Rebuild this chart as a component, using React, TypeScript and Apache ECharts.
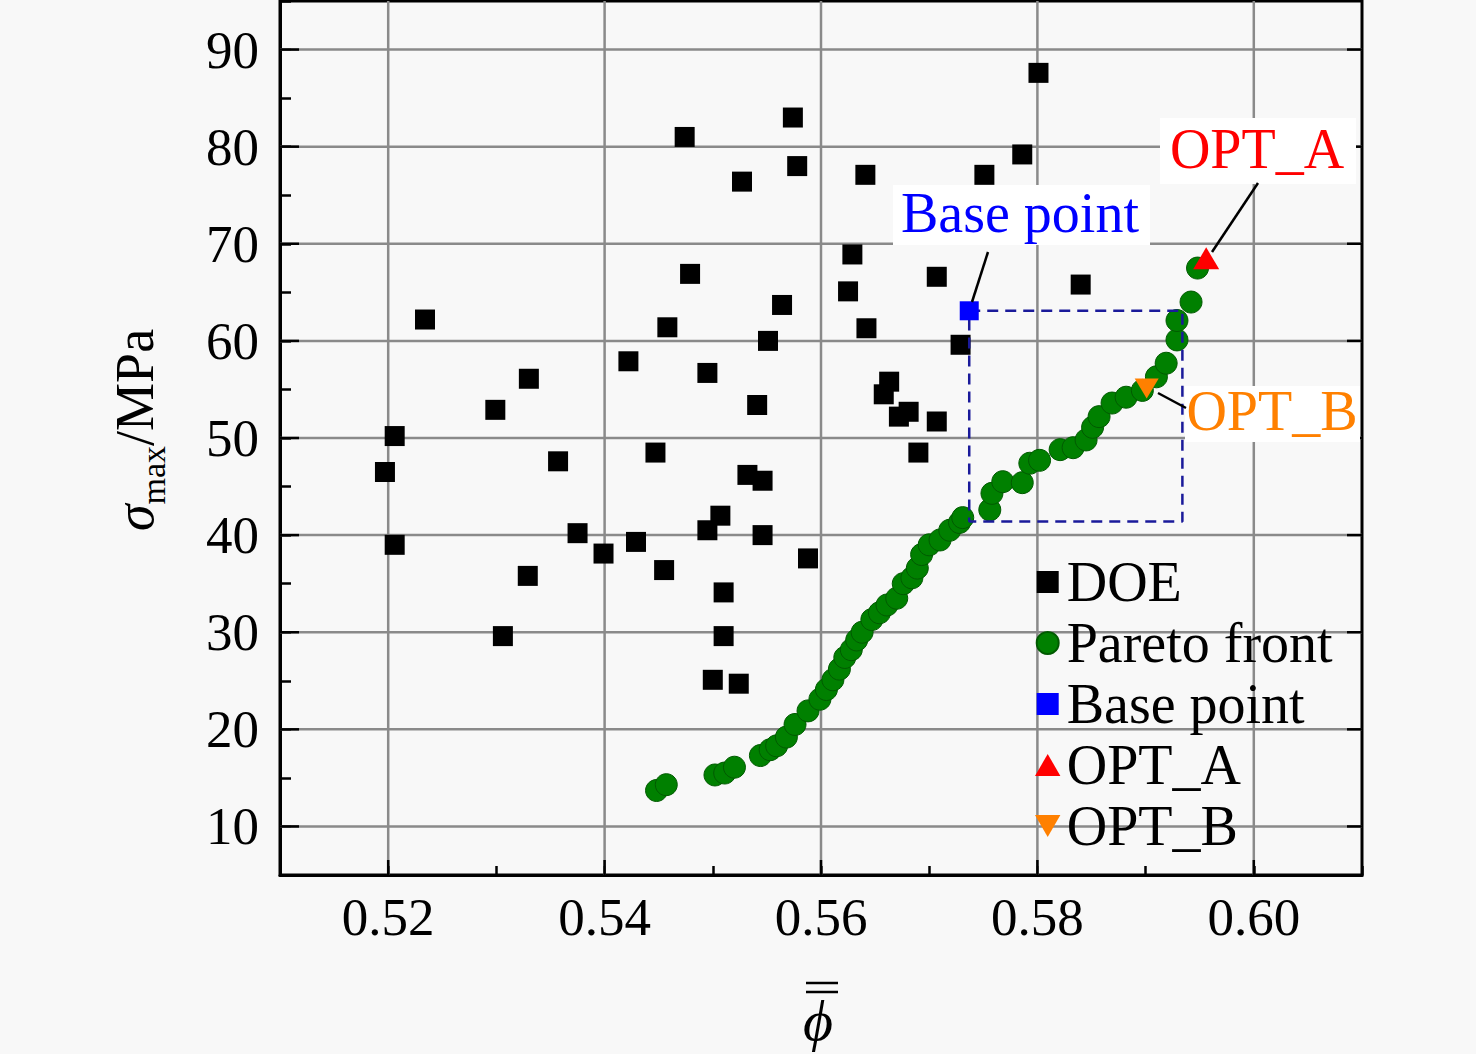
import React, { useEffect, useRef } from "react";
import * as echarts from "echarts";

const FONT = "'Liberation Serif', 'Times New Roman', serif";

const X_MIN = 0.51;
const X_MAX = 0.61;
const Y_MIN = 5;
const Y_MAX = 95;
const xMajorTicks = [0.52, 0.54, 0.56, 0.58, 0.6];
const yMajorTicks = [10, 20, 30, 40, 50, 60, 70, 80, 90];

const doePoints: number[][] = [
  [0.5197, 46.5], [0.5206, 50.2], [0.5206, 39.0], [0.5234, 62.2], [0.5299, 52.9],
  [0.5306, 29.6], [0.533, 56.1], [0.5329, 35.8], [0.5357, 47.6], [0.5375, 40.2],
  [0.5399, 38.1], [0.5422, 57.9], [0.5429, 39.3], [0.5447, 48.5], [0.5455, 36.4],
  [0.5458, 61.4], [0.5474, 81.0], [0.5479, 66.9], [0.5495, 56.7], [0.5495, 40.5],
  [0.55, 25.1], [0.5507, 42.0], [0.551, 34.1], [0.551, 29.6], [0.5524, 24.7],
  [0.5527, 76.4], [0.5532, 46.2], [0.5541, 53.4], [0.5546, 45.6], [0.5546, 40.0],
  [0.5551, 60.0], [0.5564, 63.7], [0.5574, 83.0], [0.5578, 78.0], [0.5588, 37.6],
  [0.5625, 65.1], [0.5629, 68.9], [0.5641, 77.1], [0.5642, 61.3], [0.5658, 54.5],
  [0.5663, 55.8], [0.5672, 52.2], [0.5681, 52.7], [0.569, 48.5], [0.5707, 66.6],
  [0.5707, 51.7], [0.5729, 59.6], [0.5751, 77.1], [0.5786, 79.2], [0.5801, 87.6],
  [0.584, 65.8],
];

const paretoPoints: number[][] = [
  [0.5448, 13.7], [0.5457, 14.3], [0.5502, 15.3], [0.5511, 15.5], [0.552, 16.1],
  [0.5544, 17.3], [0.5553, 17.9], [0.5559, 18.3], [0.5568, 19.2], [0.5576, 20.5],
  [0.5588, 21.9], [0.5599, 23.1], [0.5605, 24.1], [0.5611, 25.1], [0.5617, 26.2],
  [0.5622, 27.4], [0.5628, 28.2], [0.5633, 29.2], [0.5638, 30.0], [0.5647, 31.3],
  [0.5654, 32.0], [0.5661, 32.8], [0.567, 33.5], [0.5676, 35.0], [0.5684, 35.6],
  [0.5689, 36.6], [0.5693, 38.0], [0.57, 39.0], [0.571, 39.5], [0.5719, 40.5],
  [0.5728, 41.3], [0.5731, 41.8], [0.5756, 42.6], [0.5758, 44.3], [0.5768, 45.5],
  [0.5786, 45.4], [0.5793, 47.4], [0.5802, 47.7], [0.5821, 48.8], [0.5833, 49.0],
  [0.5845, 49.8], [0.5851, 51.1], [0.5857, 52.2], [0.5869, 53.6], [0.5882, 54.2],
  [0.5897, 54.9], [0.591, 56.3], [0.5919, 57.7], [0.5929, 60.1], [0.5929, 62.1],
  [0.5942, 64.0], [0.5948, 67.5],
];

const basePoint: number[][] = [[0.5737, 63.1]];
const optAPoint: number[][] = [[0.5956, 68.5]];
const optBPoint: number[][] = [[0.5901, 55.1]];
const baseBox: number[][] = [
  [0.5737, 63.1], [0.5934, 63.1], [0.5934, 41.4], [0.5737, 41.4], [0.5737, 63.1],
];

const legendNames = ["DOE", "Pareto front", "Base point", "OPT_A", "OPT_B"];

const SQUARE_ICON = "path://M0,0L10,0L10,10L0,10Z";
const TRI_UP_ICON = "path://M5,0L10,8.66L0,8.66Z";
const TRI_DOWN_ICON = "path://M0,0L10,0L5,8.66Z";

export default function App() {
  const ref = useRef<HTMLDivElement>(null);

  useEffect(() => {
    if (!ref.current) return;
    const chart = echarts.init(ref.current, undefined, { renderer: "svg" });

    const gridColor = "#8a8a8a";

    const option: any = {
      animation: false,
      backgroundColor: "#f8f8f8",
      textStyle: { fontFamily: FONT },
      grid: {
        left: 280,
        right: 114,
        top: 1,
        bottom: 179,
        show: true,
        borderColor: "#000",
        borderWidth: 3,
        backgroundColor: "transparent",
      },
      xAxis: {
        type: "value",
        min: X_MIN,
        max: X_MAX,
        interval: 0.01,
        axisLine: { show: true, lineStyle: { color: "#000", width: 3 } },
        axisTick: { show: true, inside: true, length: 9, lineStyle: { color: "#000", width: 2.5 } },
        axisLabel: {
          color: "#000",
          fontSize: 53,
          fontFamily: FONT,
          margin: 15,
          formatter: (v: number) => (Math.round(v * 100) % 2 === 0 ? v.toFixed(2) : ""),
        },
        splitLine: { show: false },
      },
      yAxis: {
        type: "value",
        min: Y_MIN,
        max: Y_MAX,
        interval: 5,
        axisLine: { show: true, lineStyle: { color: "#000", width: 3 } },
        axisTick: { show: true, inside: true, length: 11, lineStyle: { color: "#000", width: 2.5 } },
        axisLabel: {
          color: "#000",
          fontSize: 53,
          fontFamily: FONT,
          margin: 21,
          formatter: (v: number) => (Math.round(v) % 10 === 0 ? String(Math.round(v)) : ""),
        },
        splitLine: { show: false },
        name: "{s|σ}{sub|max}{n|/MPa}",
        nameLocation: "middle",
        nameRotate: 90,
        nameGap: 110,
        nameTextStyle: {
          padding: [0, 0, 0, 16],
          rich: {
            s: { fontSize: 54, fontFamily: FONT, fontStyle: "italic", color: "#000", lineHeight: 70, verticalAlign: "middle" },
            sub: { fontSize: 34, fontFamily: FONT, color: "#000", lineHeight: 70, verticalAlign: "bottom" },
            n: { fontSize: 54, fontFamily: FONT, color: "#000", lineHeight: 70, verticalAlign: "middle" },
          },
        },
      },
      legend: {
        data: [
          { name: "DOE", icon: SQUARE_ICON },
          { name: "Pareto front", icon: "circle" },
          { name: "Base point", icon: SQUARE_ICON },
          { name: "OPT_A", icon: TRI_UP_ICON },
          { name: "OPT_B", icon: TRI_DOWN_ICON },
        ],
        orient: "vertical",
        left: 1030,
        top: 549,
        itemWidth: 26,
        itemHeight: 22,
        itemGap: 5,
        symbolKeepAspect: true,
        textStyle: { fontSize: 56, fontFamily: FONT, color: "#000", lineHeight: 54, padding: [0, 0, 0, 1] },
      },
      series: [
        {
          type: "custom",
          name: "xgrid",
          silent: true,
          z: 1,
          data: xMajorTicks.map((v) => [v, Y_MIN]),
          encode: { x: 0, y: 1 },
          renderItem: (params: any, api: any) => {
            const v = api.value(0);
            const b = api.coord([v, Y_MIN]);
            const t = api.coord([v, Y_MAX]);
            return {
              type: "group",
              children: [
                { type: "line", shape: { x1: b[0], y1: b[1], x2: t[0], y2: t[1] }, style: { stroke: gridColor, lineWidth: 2.5 } },
                { type: "line", shape: { x1: b[0], y1: b[1], x2: b[0], y2: b[1] - 15 }, style: { stroke: "#000", lineWidth: 2.5 } },
              ],
            };
          },
        },
        {
          type: "custom",
          name: "ygrid",
          silent: true,
          z: 1,
          data: yMajorTicks.map((v) => [X_MIN, v]),
          encode: { x: 0, y: 1 },
          renderItem: (params: any, api: any) => {
            const v = api.value(1);
            const l = api.coord([X_MIN, v]);
            const r = api.coord([X_MAX, v]);
            return {
              type: "group",
              children: [
                { type: "line", shape: { x1: l[0], y1: l[1], x2: r[0], y2: r[1] }, style: { stroke: gridColor, lineWidth: 2.5 } },
                { type: "line", shape: { x1: l[0], y1: l[1], x2: l[0] + 19, y2: l[1] }, style: { stroke: "#000", lineWidth: 2.5 } },
                { type: "line", shape: { x1: r[0], y1: r[1], x2: r[0] - 15, y2: r[1] }, style: { stroke: "#000", lineWidth: 2.5 } },
              ],
            };
          },
        },
        {
          type: "scatter",
          name: "DOE",
          data: doePoints,
          symbol: "rect",
          symbolSize: 20,
          z: 3,
          itemStyle: { color: "#000", opacity: 1 },
        },
        {
          type: "scatter",
          name: "Pareto front",
          data: paretoPoints,
          symbol: "circle",
          symbolSize: 22,
          z: 3,
          itemStyle: { color: "#008000", borderColor: "#005a00", borderWidth: 1, opacity: 1 },
        },
        {
          type: "line",
          name: "baseBox",
          data: baseBox,
          showSymbol: false,
          symbol: "none",
          silent: true,
          z: 4,
          lineStyle: { color: "#1a1a9a", width: 2.5, type: [11, 7] },
        },
        {
          type: "scatter",
          name: "Base point",
          data: basePoint,
          symbol: "rect",
          symbolSize: 19,
          z: 5,
          itemStyle: { color: "#0000ff", opacity: 1 },
        },
        {
          type: "scatter",
          name: "OPT_A",
          data: optAPoint,
          symbol: "triangle",
          symbolSize: [26, 22],
          z: 5,
          itemStyle: { color: "#ff0000", opacity: 1 },
        },
        {
          type: "scatter",
          name: "OPT_B",
          data: optBPoint,
          symbol: "triangle",
          symbolRotate: 180,
          symbolSize: [24, 20],
          z: 5,
          itemStyle: { color: "#ff8000", opacity: 1 },
        },
      ],
      graphic: [
        { type: "rect", z: 50, shape: { x: 893, y: 185, width: 257, height: 60 }, style: { fill: "#ffffff" } },
        { type: "text", z: 51, x: 1020, y: 213, style: { text: "Base point", fontSize: 56, fontFamily: FONT, fill: "#0000ff", textAlign: "center", textVerticalAlign: "middle" } },
        { type: "line", z: 51, shape: { x1: 988, y1: 252, x2: 972, y2: 302 }, style: { stroke: "#000", lineWidth: 2.5 } },
        { type: "rect", z: 50, shape: { x: 1160, y: 118, width: 196, height: 66 }, style: { fill: "#ffffff" } },
        { type: "text", z: 51, x: 1257, y: 149, style: { text: "OPT_A", fontSize: 56, fontFamily: FONT, fill: "#ff0000", textAlign: "center", textVerticalAlign: "middle" } },
        { type: "line", z: 51, shape: { x1: 1258, y1: 183, x2: 1212, y2: 252 }, style: { stroke: "#000", lineWidth: 2.5 } },
        { type: "rect", z: 50, shape: { x: 1185, y: 386, width: 175, height: 56 }, style: { fill: "#ffffff" } },
        { type: "text", z: 51, x: 1272, y: 411, style: { text: "OPT_B", fontSize: 56, fontFamily: FONT, fill: "#ff8000", textAlign: "center", textVerticalAlign: "middle" } },
        { type: "line", z: 51, shape: { x1: 1158, y1: 393, x2: 1186, y2: 408 }, style: { stroke: "#000", lineWidth: 2.5 } },
        { type: "text", z: 51, x: 818, y: 1020, style: { text: "ϕ", fontSize: 58, fontFamily: FONT, fontStyle: "italic", fill: "#000", textAlign: "center", textVerticalAlign: "middle" } },
        { type: "line", z: 51, shape: { x1: 806, y1: 983, x2: 838, y2: 983 }, style: { stroke: "#000", lineWidth: 2.5 } },
        { type: "line", z: 51, shape: { x1: 806, y1: 992, x2: 838, y2: 992 }, style: { stroke: "#000", lineWidth: 2.5 } },
      ],
    };

    chart.setOption(option);
    return () => chart.dispose();
  }, []);

  return (
    <div
      ref={ref}
      style={{ position: "fixed", left: 0, top: 0, width: 1476, height: 1054, background: "#f8f8f8" }}
    />
  );
}
